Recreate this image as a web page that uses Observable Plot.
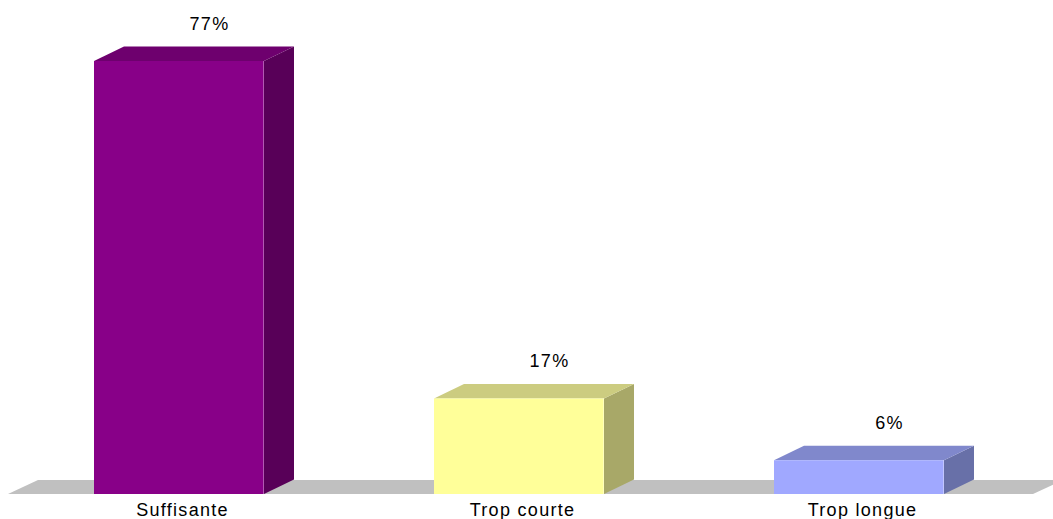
<!DOCTYPE html>
<html><head><meta charset="utf-8">
<script src="https://cdn.jsdelivr.net/npm/d3@7"></script>
<script src="https://cdn.jsdelivr.net/npm/@observablehq/plot@0.6"></script>
<style>body{margin:0;background:#fff}</style>
</head><body><div id="chart"></div>
<script>
const categories = ["Suffisante", "Trop courte", "Trop longue"];
const values = [77, 17, 6];
const labels = ["77%", "17%", "6%"];
const frontColors = ["#880088", "#FFFF99", "#A0A8FF"];
const topColors = ["#6E006E", "#CCCC80", "#8088CC"];
const sideColors = ["#580058", "#A8A868", "#6870A8"];

const data = categories.map((c, i) => ({cat: c, value: values[i], label: labels[i], front: frontColors[i], top: topColors[i], side: sideColors[i]}));
const DX = 30, DY = -14.5;

function poly(g, pts, fill) {
  g.append("path").attr("d", "M" + pts.map(p => p.join(",")).join("L") + "Z").attr("fill", fill);
}

const bars3d = Plot.barY(data, {
  x: "cat", y: "value",
  render(index, scales, values, dims, context) {
    const X = scales.x, Y = scales.y;
    const bw = typeof X.bandwidth === "function" ? X.bandwidth() : X.bandwidth;
    const g = d3.create("svg:g");
    const r = X.range ? X.range() : [9, 1029];
    const y0 = Y(0);
    // floor
    const xl = r[0] - 1, xr = r[1] + 4;
    poly(g, [[xl, y0], [xr, y0], [xr + DX, y0 - 14], [xl + DX, y0 - 14]], "#C0C0C0");
    for (const i of index) {
      const d = data[i];
      const x0 = X(d.cat), x1 = x0 + bw, yt = Y(d.value);
      poly(g, [[x1, yt], [x1 + DX, yt + DY], [x1 + DX, y0 + DY], [x1, y0]], d.side);
      poly(g, [[x0, yt], [x0 + DX, yt + DY], [x1 + DX, yt + DY], [x1, yt]], d.top);
      poly(g, [[x0, yt], [x1, yt], [x1, y0], [x0, y0]], d.front);
      g.append("line").attr("x1", x1 - 0.5).attr("x2", x1 - 0.5).attr("y1", yt).attr("y2", y0)
        .attr("stroke", "#fff").attr("stroke-opacity", 0.35);
    }
    return g.node();
  }
});

const chart = Plot.plot({
  width: 1053, height: 519,
  marginTop: 0, marginBottom: 25, marginLeft: 0, marginRight: 0,
  style: {fontFamily: "'Liberation Sans', Arial, sans-serif", fontSize: "18px", color: "#000", background: "#fff", letterSpacing: "1.3px"},
  x: {domain: categories, range: [9, 1029], paddingInner: 0.5, paddingOuter: 0.25, axis: null},
  y: {domain: [0, 77], range: [494, 61], axis: null},
  marks: [
    bars3d,
    Plot.text(data, {x: "cat", y: "value", text: "label", dx: 30, dy: -31.5, lineAnchor: "bottom", fontSize: 18, fill: "#000"}),
    Plot.axisX({tickSize: 0, tickPadding: 9, fontSize: 18, dx: 3, label: null, color: "#000"})
  ]
});
document.getElementById("chart").appendChild(chart);
</script>
</body></html>
